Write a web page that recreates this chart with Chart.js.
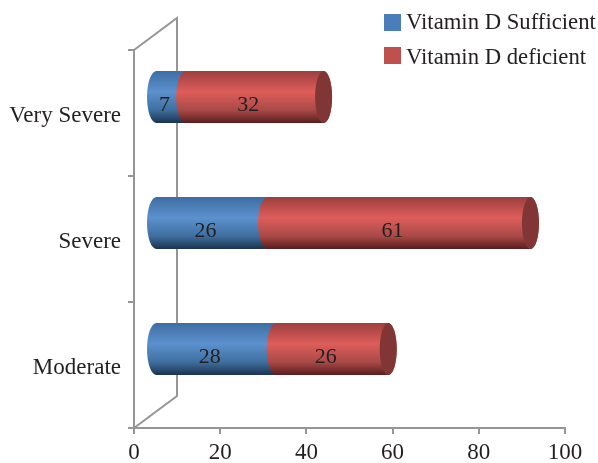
<!DOCTYPE html>
<html>
<head>
<meta charset="utf-8">
<script src="https://cdn.jsdelivr.net/npm/chart.js@4/dist/chart.umd.js"></script>
<style>
  html, body { margin: 0; padding: 0; background: #fff; }
  canvas { display: block; }
</style>
</head>
<body>
<canvas id="chart" width="598" height="463"></canvas>
<script>
const categories = ['Very Severe', 'Severe', 'Moderate']
const sufficient = [7, 26, 28]
const deficient = [32, 61, 26]
const xTicks = [0, 20, 40, 60, 80, 100]

const FONT = '"Liberation Serif", serif'
const TEXT = '#231f20'
const AXIS = '#969696'
const TEXT_SIZE = 23

const blue = { stops: ['#3d6da3', '#5c91ce', '#3f6f9f', '#1b3350'], legend: '#4a7ebb' }
const red = { stops: ['#9c3f3f', '#de5d5a', '#a94a48', '#591d1d'], legend: '#c0504d', cap: '#823535' }

// bars sit in front of the back wall
const barShift = { x: 13, y: -16 }
const wall = { x: 43, y: -32 }
const capRx = 8.5
const startRx = 9.5

const cylinderGradient = (ctx, top, bottom, stops) => {
  const g = ctx.createLinearGradient(0, top, 0, bottom)
  g.addColorStop(0, stops[0])
  g.addColorStop(0.4, stops[1])
  g.addColorStop(0.75, stops[2])
  g.addColorStop(1, stops[3])
  return g
}

const drawCylinder = (ctx, bar, style, capped) => {
  const { x, y, base, height } = bar.getProps(['x', 'y', 'base', 'height'])
  const x0 = base + barShift.x + capRx
  const x1 = x + barShift.x + capRx
  const cy = y + barShift.y
  const ry = height / 2
  ctx.fillStyle = cylinderGradient(ctx, cy - ry, cy + ry, style.stops)
  ctx.beginPath()
  ctx.ellipse(x0, cy, startRx, ry, 0, Math.PI / 2, Math.PI * 1.5)
  ctx.lineTo(x1, cy - ry)
  ctx.ellipse(x1, cy, capRx, ry, 0, -Math.PI / 2, Math.PI / 2)
  ctx.closePath()
  ctx.fill()
  if (capped) {
    ctx.fillStyle = style.cap
    ctx.beginPath()
    ctx.ellipse(x1, cy, capRx, ry, 0, 0, Math.PI * 2)
    ctx.fill()
  }
}

const cylinders = {
  id: 'cylinders',
  beforeDatasetsDraw(chart) {
    const { ctx, chartArea: a } = chart
    ctx.save()
    ctx.strokeStyle = AXIS
    ctx.lineWidth = 2
    ctx.beginPath()
    ctx.moveTo(a.left, a.top)
    ctx.lineTo(a.left + wall.x, a.top + wall.y)
    ctx.lineTo(a.left + wall.x, a.bottom + wall.y)
    ctx.lineTo(a.left, a.bottom)
    ctx.stroke()
    // blue first, the red end overlaps it
    chart.getDatasetMeta(0).data.forEach((bar) => drawCylinder(ctx, bar, blue, false))
    chart.getDatasetMeta(1).data.forEach((bar) => drawCylinder(ctx, bar, red, true))
    ctx.restore()
  },
  beforeDatasetDraw() {
    return false
  },
  afterDatasetsDraw(chart) {
    const { ctx } = chart
    ctx.save()
    ctx.font = '22px ' + FONT
    ctx.fillStyle = TEXT
    ctx.textAlign = 'center'
    ctx.textBaseline = 'middle'
    chart.data.datasets.forEach((ds, i) => {
      chart.getDatasetMeta(i).data.forEach((bar, j) => {
        const { x, y, base } = bar.getProps(['x', 'y', 'base'])
        ctx.fillText(ds.data[j], (x + base) / 2 + barShift.x + 2, y + barShift.y + 8)
      })
    })
    // legend
    ctx.font = '22.7px ' + FONT
    ctx.textAlign = 'left'
    chart.data.datasets.forEach((ds, i) => {
      ctx.fillStyle = ds.legendColor
      ctx.fillRect(384, 14 + i * 33, 17, 17)
      ctx.fillStyle = TEXT
      ctx.fillText(ds.label, 406, 23 + i * 35)
    })
    ctx.restore()
  },
}

new Chart(document.getElementById('chart'), {
  type: 'bar',
  data: {
    labels: categories,
    datasets: [
      { label: 'Vitamin D Sufficient', data: sufficient, backgroundColor: blue.legend, legendColor: blue.legend },
      { label: 'Vitamin D deficient', data: deficient, backgroundColor: red.legend, legendColor: red.legend },
    ],
  },
  options: {
    indexAxis: 'y',
    responsive: false,
    animation: false,
    barPercentage: 0.413,
    categoryPercentage: 1,
    layout: { padding: { top: 50, right: 33, left: 0, bottom: 0 } },
    plugins: { legend: { display: false }, tooltip: { enabled: false } },
    scales: {
      x: {
        stacked: true,
        min: 0,
        max: 100,
        afterBuildTicks: (axis) => { axis.ticks = xTicks.map((value) => ({ value })) },
        afterFit: (axis) => { axis.height = 35 },
        border: { color: AXIS, width: 2 },
        grid: { drawOnChartArea: false, color: AXIS, lineWidth: 2, tickLength: 6 },
        ticks: { color: TEXT, font: { family: FONT, size: TEXT_SIZE }, maxRotation: 0, padding: 5 },
      },
      y: {
        stacked: true,
        afterFit: (axis) => { axis.width = 134 },
        border: { color: AXIS, width: 2 },
        grid: { drawOnChartArea: false, color: AXIS, lineWidth: 2, tickLength: 6 },
        ticks: { color: TEXT, font: { family: FONT, size: TEXT_SIZE }, padding: 7, labelOffset: 3 },
      },
    },
  },
  plugins: [cylinders],
})
</script>
</body>
</html>
